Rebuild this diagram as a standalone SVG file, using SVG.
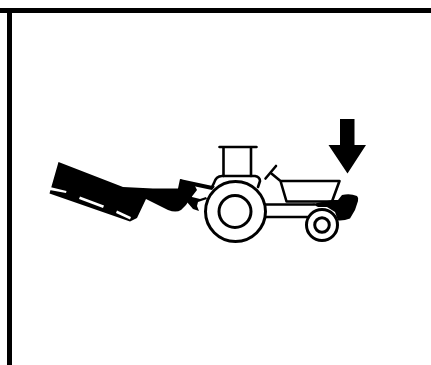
<svg xmlns="http://www.w3.org/2000/svg" width="431" height="365" viewBox="0 0 431 365">
<style>
.k{fill:#000}
.s{fill:#fff}
.l{fill:none;stroke:#000;stroke-width:2.600;stroke-linejoin:round;stroke-linecap:round}
.w{fill:#fff;stroke:#000;stroke-width:3}
</style>
<rect width="431" height="365" fill="#fff"/>
<g id="frame">
<rect class="k" x="0" y="8" width="431" height="5"/>
<rect class="k" x="7" y="8" width="5" height="357"/>
</g>
<g id="mower">
<path class="k" d="M58.500 162L49.500 193.500L130 221.500L137 218L146 199L168 210Q176 213 181 210L186 205L190 199L197 190L194 184L180 179L178 188.500L153 188.500L123 187Z"/>
<path class="s" d="M50 187L66.500 191L66 193L49.500 190Z"/>
<path class="s" d="M80 196.500L104 205.500L103 208L79 199Z"/>
<path class="s" d="M117 210.500L131 217L130 219.500L116 213Z"/>
</g>
<g id="tractor">
<path class="k" d="M180 179L215 186.500L212 190L193 186L190 191L192 197L200 199L206 197L207 199L198 202L197 206L199 211L193 209L187 202Z"/>
<path class="l" d="M219.500 147H256.500M223.500 147V176M251 147V176"/>
<path class="l" d="M212 187L214 183Q216 176 222 176H255Q260 177 260 181L258 187"/>
<path class="l" d="M265.500 178.500L276 166M272 174L280.500 181H339.500L332 201.500H286.500L280.500 181"/>
<path class="l" d="M264 204.500H314M266 217H307"/>
<path class="k" d="M312 204L332 200L338 200L342 195Q350 193 357 196Q359 198 358 201L355 210L350 218.500Q344 221 338 220.500L335 212L327 207L318 207Z"/>
<circle class="w" cx="235.500" cy="211.500" r="30"/>
<circle class="w" cx="235" cy="211.500" r="16"/>
<circle class="w" cx="322" cy="225" r="15.500"/>
<circle class="w" cx="322" cy="225" r="7.300"/>
</g>
<g id="arrow">
<path class="k" d="M340 119H354.500V145H366L347.500 173.500L328.500 145H340Z"/>
</g>
</svg>
